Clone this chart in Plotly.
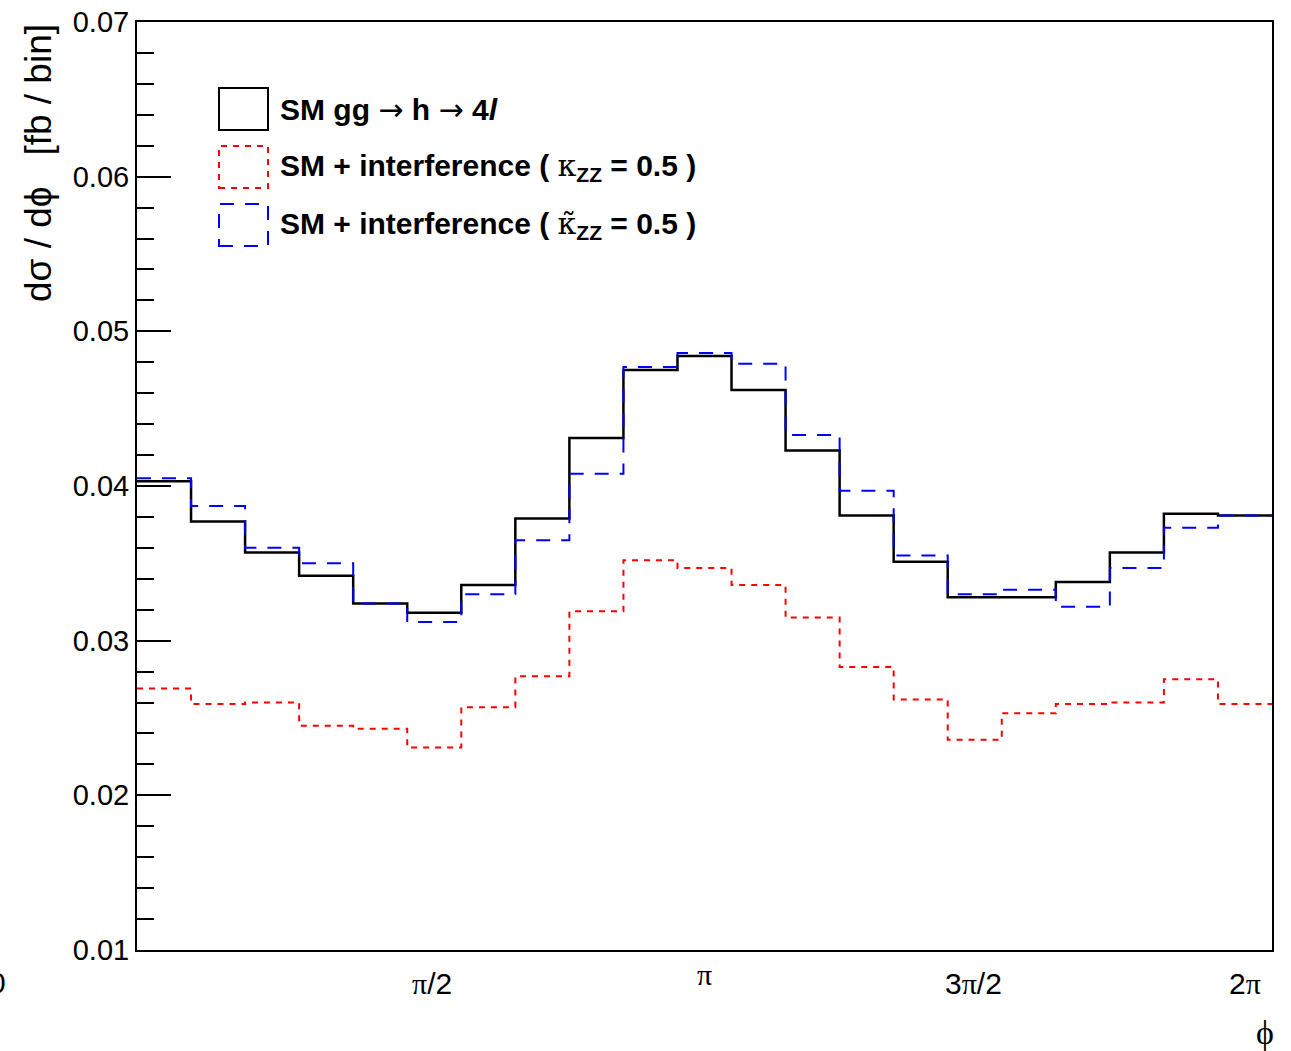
import numpy as np
import plotly.graph_objects as go

# phi distribution, 21 equal bins over [0, 2*pi]
n_bins = 21
phi_min, phi_max = 0.0, 2 * np.pi

sm_ggh4l = [0.0403, 0.0377, 0.0357, 0.0342, 0.0324, 0.0318, 0.0336,
            0.0379, 0.0431, 0.0475, 0.0484, 0.0462, 0.0423, 0.0381,
            0.0351, 0.0328, 0.0328, 0.0338, 0.0357, 0.0382, 0.0381]

sm_interf_kzz = [0.0269, 0.0259, 0.0260, 0.0245, 0.0243, 0.0231, 0.0257,
                 0.0277, 0.0319, 0.0352, 0.0347, 0.0336, 0.0315, 0.0283,
                 0.0262, 0.0236, 0.0253, 0.0259, 0.0260, 0.0275, 0.0259]

sm_interf_kzz_tilde = [0.0405, 0.0387, 0.0360, 0.0350, 0.0324, 0.0312, 0.0330,
                       0.0365, 0.0408, 0.0477, 0.0486, 0.0479, 0.0433, 0.0397,
                       0.0355, 0.0330, 0.0333, 0.0322, 0.0347, 0.0373, 0.0381]

x_tick_labels = ["0", "π/2", "π", "3π/2", "2π"]

edges = np.linspace(phi_min, phi_max, n_bins + 1)


def step(values):
    # repeat the last bin content so the final step reaches the upper edge
    return list(edges), list(values) + [values[-1]]


SANS = "Liberation Sans, Arial, sans-serif"
SERIF = "Liberation Serif, DejaVu Serif, serif"

fig = go.Figure()

series = [
    (sm_ggh4l, "black", "solid", 2.5),
    (sm_interf_kzz, "#ff0000", "6px,6px", 2.0),
    (sm_interf_kzz_tilde, "#0000ff", "14px,11px", 2.0),
]
for vals, color, dash, width in series:
    xs, ys = step(vals)
    fig.add_trace(go.Scatter(
        x=xs, y=ys, mode="lines", line_shape="hv",
        line=dict(color=color, dash=dash, width=width),
        showlegend=False, hoverinfo="skip",
    ))

fig.update_xaxes(
    range=[phi_min, phi_max], showgrid=False, zeroline=False,
    showticklabels=False, ticks="", automargin=False,
    showline=True, linecolor="black", linewidth=2, mirror=True,
)
fig.update_yaxes(
    range=[0.01, 0.07], showgrid=False, zeroline=False, automargin=False,
    dtick=0.01, tick0=0.01, tickformat=".2f",
    ticks="inside", ticklen=34, tickwidth=2, tickcolor="black",
    minor=dict(dtick=0.002, ticks="inside", ticklen=17, tickwidth=2,
               tickcolor="black", showgrid=False),
    tickfont=dict(family=SANS, size=29, color="black"),
    showline=True, linecolor="black", linewidth=2, mirror=True,
)

# plot frame in pixels: left 137, right 1272, top 22, bottom 950
L, R, T, B = 137, 1272, 22, 950


def px(xp):
    return (xp - L) / (R - L)


def py(yp):
    return (B - yp) / (B - T)


# hand-placed phi labels below the axis
x_label_pos = [(-3, 982), (432, 983), (704, 975), (973, 983), (1245, 983)]
for text, (xp, yp) in zip(x_tick_labels, x_label_pos):
    html = text.replace("π", f"<span style='font-family:{SERIF}'>π</span>")
    fig.add_annotation(
        x=px(xp), y=py(yp), xref="paper", yref="paper",
        text=html, showarrow=False, xanchor="center", yanchor="middle",
        font=dict(family=SANS, size=30, color="black"),
    )

# axis titles
fig.add_annotation(
    x=px(1265), y=py(1032), xref="paper", yref="paper",
    text="ϕ", showarrow=False, xanchor="center", yanchor="middle",
    font=dict(family=SERIF, size=34, color="black"),
)
fig.add_annotation(
    x=px(38), y=py(22), xref="paper", yref="paper",
    text="dσ / dϕ   [fb / bin]", textangle=-90, showarrow=False,
    xanchor="center", yanchor="top",
    font=dict(family=SANS, size=37, color="black"),
)

ARROW = "<span style='font-family:DejaVu Sans;font-weight:normal'>→</span>"
KAPPA = "<span style='font-family:DejaVu Serif;font-weight:normal'>κ</span>"
KAPPA_T = "<span style='font-family:DejaVu Serif;font-weight:normal'>κ̃</span>"

# legend: outlined boxes with the line style of each histogram
legend_entries = [
    ("black", "solid", 2.0, 88, 130,
     f"SM gg {ARROW} h {ARROW} 4<i>l</i>"),
    ("#ff0000", "6px,6px", 2.0, 146, 188,
     f"SM + interference ( {KAPPA}<sub>ZZ</sub> = 0.5 )"),
    ("#0000ff", "14px,11px", 2.0, 204, 246,
     f"SM + interference ( {KAPPA_T}<sub>ZZ</sub> = 0.5 )"),
]
for color, dash, width, y0, y1, label in legend_entries:
    fig.add_shape(
        type="rect", xref="paper", yref="paper",
        x0=px(219), x1=px(268), y0=py(y1), y1=py(y0),
        line=dict(color=color, dash=dash, width=width),
    )
    fig.add_annotation(
        x=px(278), y=py((y0 + y1) / 2), xref="paper", yref="paper",
        text=label, showarrow=False, xanchor="left", yanchor="middle",
        font=dict(family=SANS, size=30, color="black", weight="bold"),
    )

fig.update_layout(
    width=1291, height=1051,
    margin=dict(l=L, r=1291 - R, t=T, b=1051 - B, autoexpand=False),
    paper_bgcolor="white", plot_bgcolor="white",
    showlegend=False,
)

fig.write_html("out.html")
